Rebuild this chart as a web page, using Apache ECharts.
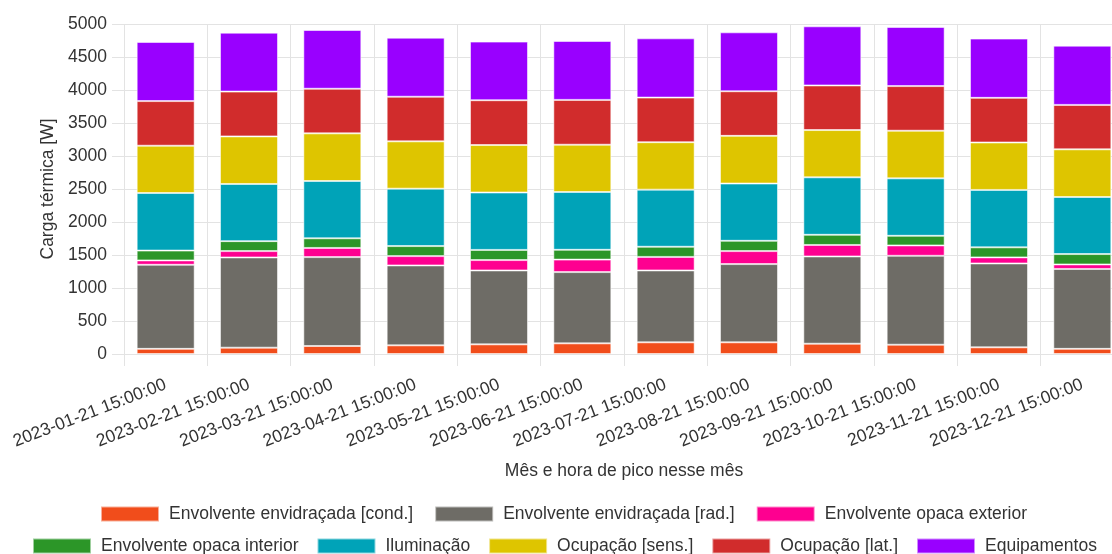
<!DOCTYPE html>
<html>
<head>
<meta charset="utf-8">
<script src="https://cdn.jsdelivr.net/npm/echarts@6/dist/echarts.min.js"></script>
<style>
html,body{margin:0;padding:0;background:#fff;overflow:hidden;width:1112px;height:554px;}
#chart{width:1124px;height:554px;}
</style>
</head>
<body>
<div id="chart"></div>
<script>
const categories = ['2023-01-21 15:00:00','2023-02-21 15:00:00','2023-03-21 15:00:00','2023-04-21 15:00:00','2023-05-21 15:00:00','2023-06-21 15:00:00','2023-07-21 15:00:00','2023-08-21 15:00:00','2023-09-21 15:00:00','2023-10-21 15:00:00','2023-11-21 15:00:00','2023-12-21 15:00:00'];
const envCond  = [78, 96, 121, 131, 146, 161, 177, 177, 156, 141, 101, 78];
const envRad   = [1274, 1367, 1347, 1211, 1120, 1080, 1089, 1185, 1322, 1347, 1271, 1211];
const opacaExt = [66, 96, 139, 141, 157, 189, 205, 197, 174, 157, 92, 68];
const opacaInt = [149, 151, 146, 152, 154, 149, 154, 156, 154, 146, 152, 157];
const ilum     = [872, 866, 868, 870, 870, 876, 865, 868, 871, 870, 870, 865];
const ocSens   = [717, 721, 722, 717, 719, 716, 719, 722, 716, 722, 719, 722];
const ocLat    = [676, 679, 676, 676, 679, 679, 676, 676, 676, 676, 676, 673];
const equip    = [896, 893, 890, 895, 888, 893, 898, 893, 896, 896, 898, 898];

const seriesNames = ['Envolvente envidraçada [cond.]','Envolvente envidraçada [rad.]','Envolvente opaca exterior','Envolvente opaca interior','Iluminação','Ocupação [sens.]','Ocupação [lat.]','Equipamentos'];
const seriesData = [envCond, envRad, opacaExt, opacaInt, ilum, ocSens, ocLat, equip];
const colors = ['#f14d1b','#6e6c66','#fe0090','#2c9628','#00a3b8','#dec500','#d12c2c','#9900ff'];

const FONT = 'Liberation Sans, Arial, sans-serif';
const TXT = '#333';
const GRID = '#e3e3e3';

const chart = echarts.init(document.getElementById('chart'), null, {renderer:'canvas'});
const legendCommon = {
  orient: 'horizontal', icon: 'rect',
  itemWidth: 58, itemHeight: 15,
  textStyle: {fontFamily: FONT, fontSize: 17.5, color: TXT, padding: [0,0,0,5]}
};
chart.setOption({
  animation: false,
  color: colors,
  grid: {left: 124, right: 0, top: 24, bottom: 200, containLabel: false},
  legend: [
    Object.assign({left: 95, top: 500, itemGap: 21, data: seriesNames.slice(0,3)}, legendCommon),
    Object.assign({left: 27, top: 532, itemGap: 18, data: seriesNames.slice(3)}, legendCommon)
  ],
  xAxis: {
    type: 'category', data: categories, boundaryGap: true,
    name: 'Mês e hora de pico nesse mês', nameLocation: 'middle', nameGap: 108,
    nameTextStyle: {fontFamily: FONT, fontSize: 17.5, color: TXT},
    axisLine: {show: false},
    axisTick: {show: true, length: 12, lineStyle: {color: GRID}},
    splitLine: {show: true, lineStyle: {color: GRID, width: 1}},
    axisLabel: {rotate: 21, margin: 30, interval: 0, fontFamily: FONT, fontSize: 17.5, color: TXT}
  },
  yAxis: {
    type: 'value', min: 0, max: 5000, interval: 500,
    name: 'Carga térmica [W]', nameLocation: 'middle', nameGap: 63,
    nameTextStyle: {fontFamily: FONT, fontSize: 17.5, color: TXT},
    axisLine: {show: false},
    axisTick: {show: true, length: 12, lineStyle: {color: GRID}},
    splitLine: {show: true, lineStyle: {color: GRID, width: 1}},
    axisLabel: {margin: 17, fontFamily: FONT, fontSize: 17.5, color: TXT, formatter: v => String(v)}
  },
  series: seriesNames.map((n, i) => ({
    name: n, type: 'bar', stack: 'total', barWidth: 58,
    data: seriesData[i],
    itemStyle: {color: colors[i], borderColor: 'rgba(255,255,255,0.55)', borderWidth: 1}
  }))
});
</script>
</body>
</html>
